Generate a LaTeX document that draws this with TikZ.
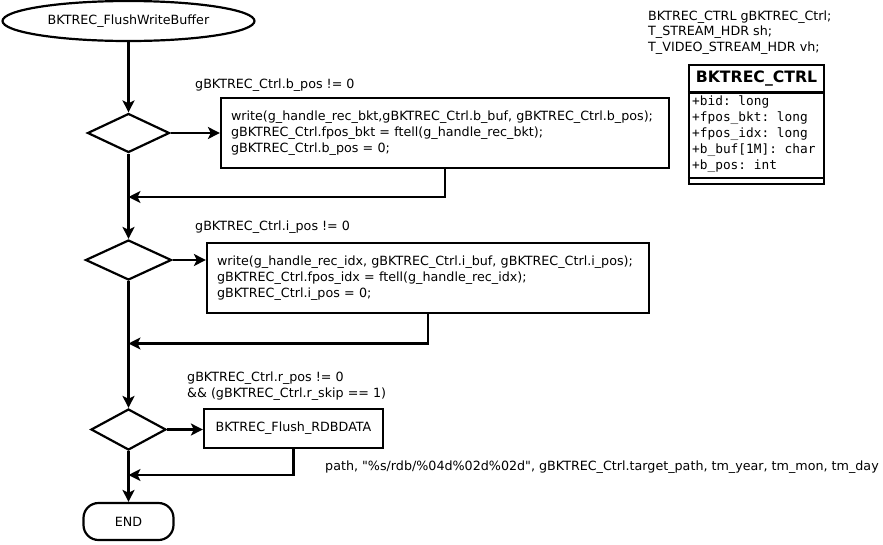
\documentclass[tikz,border=0pt]{standalone}
\usepackage{fontspec}
\setmainfont{DejaVu Sans}
\setmonofont{DejaVu Sans Mono}
\newfontfamily\qfont{DejaVu Sans}
\usetikzlibrary{shapes.geometric,arrows.meta}
\begin{document}
\begin{tikzpicture}[x=1pt,y=-1pt,
  every node/.style={font=\fontsize{12.7}{16}\selectfont, inner sep=0pt},
  ln/.style={line width=2.2pt},
  arr/.style={ln,-{Stealth[length=12pt,width=12pt,inset=3pt]}},
  decision/.style={draw, ln, diamond, inner sep=0pt},
  procbox/.style={draw, ln, rectangle},
  lbl/.style={anchor=west, align=left}
]
\fill[white] (0,0) rectangle (883,544);
\useasboundingbox (0,0) rectangle (883,544);

% start / end
\node[draw, ln, ellipse, minimum width=252pt, minimum height=40pt] (start) at (128.5,21) {BKTREC\_FlushWriteBuffer};
\node[draw, ln, rounded corners=15pt, minimum width=90pt, minimum height=37pt] (end) at (128.5,521.5) {END};

% decisions
\node[decision, minimum width=82pt, minimum height=39pt] (d1) at (128.5,133) {};
\node[decision, minimum width=86pt, minimum height=40pt] (d2) at (128.5,260) {};
\node[decision, minimum width=75pt, minimum height=41pt] (d3) at (128.5,429.5) {};

% process boxes
\node[procbox, minimum width=448pt, minimum height=70pt, text width=428pt, align=left, inner xsep=10pt] (b1) at (445,133)
  {write(g\_handle\_rec\_bkt,gBKTREC\_Ctrl.b\_buf, gBKTREC\_Ctrl.b\_pos);\\
   gBKTREC\_Ctrl.fpos\_bkt = ftell(g\_handle\_rec\_bkt);\\
   gBKTREC\_Ctrl.b\_pos = 0;};
\node[procbox, minimum width=442pt, minimum height=70pt, text width=422pt, align=left, inner xsep=10pt] (b2) at (428,278)
  {write(g\_handle\_rec\_idx, gBKTREC\_Ctrl.i\_buf, gBKTREC\_Ctrl.i\_pos);\\
   gBKTREC\_Ctrl.fpos\_idx = ftell(g\_handle\_rec\_idx);\\
   gBKTREC\_Ctrl.i\_pos = 0;};
\node[procbox, minimum width=179pt, minimum height=39pt] (b3) at (293.5,428.5) {BKTREC\_Flush\_RDBDATA};

% labels
\node[lbl] (l1) at (195,85) {gBKTREC\_Ctrl.b\_pos != 0};
\node[lbl] (l2) at (195,227) {gBKTREC\_Ctrl.i\_pos != 0};
\node[lbl] (l3) at (187,386) {gBKTREC\_Ctrl.r\_pos != 0\\ \&\& (gBKTREC\_Ctrl.r\_skip == 1)};
\node[lbl, font=\fontsize{12.7}{16}\qfont] (l4) at (325,467) {path, "\%s/rdb/\%04d\%02d\%02d", gBKTREC\_Ctrl.target\_path, tm\_year, tm\_mon, tm\_day};
\node[lbl, font=\fontsize{12.7}{15.5}\selectfont] (decl) at (648,32.5) {BKTREC\_CTRL gBKTREC\_Ctrl;\\ T\_STREAM\_HDR sh;\\ T\_VIDEO\_STREAM\_HDR vh;};

% class box
\node[draw, ln, minimum width=135pt, minimum height=119pt] (cls) at (756.5,124.5) {};
\node[font=\fontsize{15.7}{18}\selectfont\bfseries] (clsname) at (756.5,78.5) {BKTREC\_CTRL};
\node[lbl, font=\fontsize{12.8}{16}\ttfamily] (attrs) at (692,134)
  {+bid: long\\ +fpos\_bkt: long\\ +fpos\_idx: long\\ +b\_buf[1M]: char\\ +b\_pos: int};
\draw[ln] (cls.west |- 0,92.5) -- (cls.east |- 0,92.5);
\draw[ln] (cls.west |- 0,178) -- (cls.east |- 0,178);

% junctions
\coordinate (j1) at (128.5,197);
\coordinate (j2) at (128.5,343.5);
\coordinate (j3) at (128.5,475);

% connectors
\draw[arr] (start) -- (d1);
\draw[arr] (d1.east) -- (d1.east -| b1.west);
\draw[arr] (d1) -- (d2);
\draw[arr] (b1.south) |- (j1);
\draw[arr] (d2.east) -- (d2.east -| b2.west);
\draw[arr] (d2) -- (d3);
\draw[arr] (b2.south) |- (j2);
\draw[arr] (d3.east) -- (d3.east -| b3.west);
\draw[arr] (d3) -- (end);
\draw[arr] (b3.south) |- (j3);
\end{tikzpicture}
\end{document}
